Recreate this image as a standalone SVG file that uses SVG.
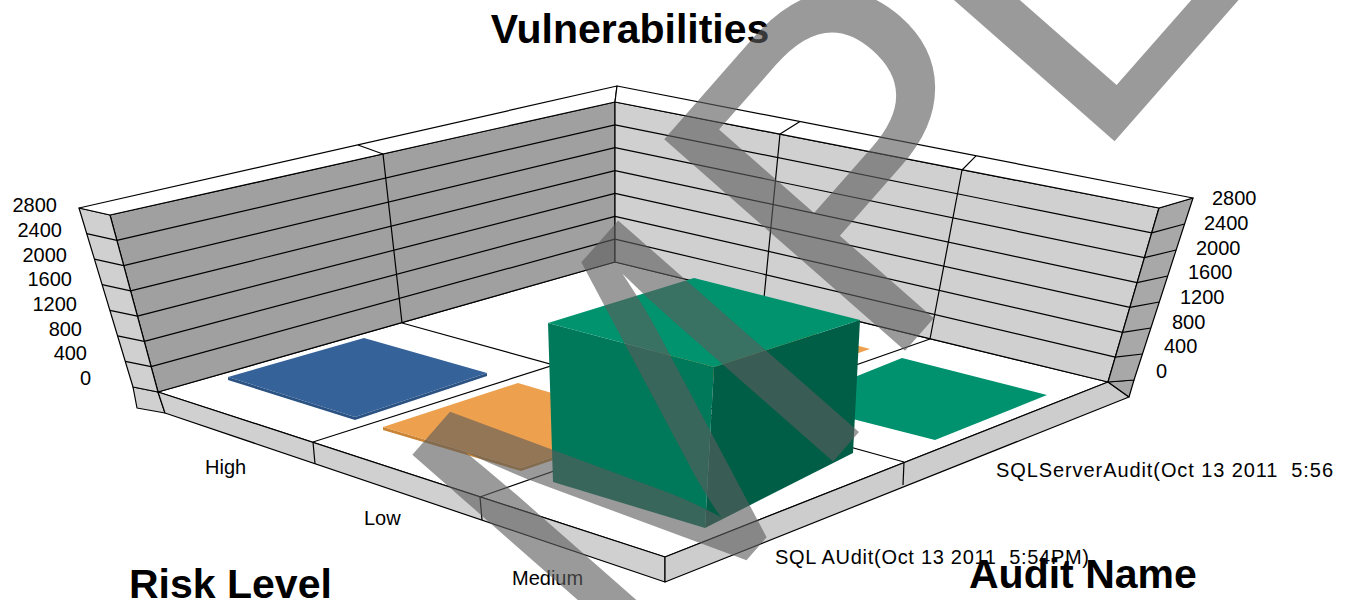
<svg xmlns="http://www.w3.org/2000/svg" width="1351" height="600" viewBox="0 0 1351 600">
<style>
.ln{stroke:#000;stroke-width:1.2;fill:none;stroke-linejoin:round}
.fc{stroke:#000;stroke-width:1.2;stroke-linejoin:round}
.tk{font-family:"Liberation Sans",Arial,sans-serif;font-size:20px;fill:#000}
.ttl{font-family:"Liberation Sans",Arial,sans-serif;font-size:41px;font-weight:bold;fill:#000}
</style>
<rect width="1351" height="600" fill="#fff"/>
<g id="floor">
<polygon class="fc" points="615,262 158,392 665,557 1108,382" fill="#fff"/>
<line class="ln" x1="402" y1="323" x2="904" y2="462"/>
<line class="ln" x1="764" y1="298" x2="313" y2="442"/>
<line class="ln" x1="930" y1="339" x2="480" y2="497"/>
</g>
<g id="base">
<polygon class="fc" points="133,387 158,392 165,413 137,408" fill="#d0d0d0"/>
<polygon class="fc" points="158,392 665,557 665,582 165,413" fill="#d0d0d0"/>
<line class="ln" x1="313" y1="442" x2="315" y2="464"/>
<line class="ln" x1="480" y1="497" x2="482" y2="520"/>
<polygon class="fc" points="665,557 1108,382 1129,397 665,582" fill="#cdcdcd"/>
<polygon class="fc" points="1108,382 1134,380 1129,397" fill="#a8a8a8"/>
<line class="ln" x1="904" y1="462" x2="903" y2="485"/>
</g>
<g id="left-wall">
<polygon class="fc" points="110,215 615,102 615,262 158,392" fill="#a0a0a0"/>
<polygon class="fc" points="79,208 110,215 158,392 133,387" fill="#d0d0d0"/>
<polygon class="fc" points="79,208 617,86 615,102 110,215" fill="#fff"/>
<g class="ln">
<polyline points="125.3,361.4 151.1,366.7 615,239.1"/>
<polyline points="117.6,335.9 144.3,341.4 615,216.3"/>
<polyline points="109.9,310.3 137.4,316.1 615,193.4"/>
<polyline points="102.1,284.7 130.6,290.9 615,170.6"/>
<polyline points="94.4,259.1 123.7,265.6 615,147.7"/>
<polyline points="86.7,233.6 116.9,240.3 615,124.9"/>
<polyline points="358,145 383,154 402,323"/>
</g>
</g>
<g id="right-wall">
<polygon class="fc" points="615,102 1159,208 1108,382 615,262" fill="#d0d0d0"/>
<polygon class="fc" points="1159,208 1193,198 1134,380 1108,382" fill="#a8a8a8"/>
<polygon class="fc" points="617,86 1193,198 1159,208 615,102" fill="#fff"/>
<g class="ln">
<polyline points="615,239.1 1115.3,357.1 1142.4,354"/>
<polyline points="615,216.3 1122.6,332.3 1150.9,328"/>
<polyline points="615,193.4 1129.9,307.4 1159.3,302"/>
<polyline points="615,170.6 1137.1,282.6 1167.7,276"/>
<polyline points="615,147.7 1144.4,257.7 1176.1,250"/>
<polyline points="615,124.9 1151.7,232.9 1184.6,224"/>
<polyline points="800,121.6 780,134 764,298"/>
<polyline points="976,155.8 962,170 930,339"/>
</g>
</g>
<g id="bar-high-sql">
<polygon points="228,377 355,417 487,373 487,376 355,420 228,380" fill="#2a5282"/>
<polygon points="228,377 364,338 487,373 355,417" fill="#36629a"/>
</g>
<g id="bar-low-sqlserver">
<polygon points="640,354 760,319 870,349 752,390" fill="#eda04e"/>
</g>
<g id="bar-medium-sqlserver">
<polygon points="790,403 902,358 1047,395 935,440" fill="#00926e"/>
</g>
<g id="bar-low-sql">
<polygon points="383,427 521,468 653,423 653,426 521,471 383,430" fill="#c98535"/>
<polygon points="383,427 518,383 653,423 521,468" fill="#eda04e"/>
</g>
<g id="bar-medium-sql">
<polygon points="548,323 714,367 705,528 553,482" fill="#00785a"/>
<polygon points="714,367 860,320 853,453 705,528" fill="#005e47"/>
<polygon points="548,323 694,278 860,320 714,367" fill="#00936e"/>
</g>
<g id="labels">
<g class="tk" text-anchor="end">
<text x="91" y="385">0</text>
<text x="87" y="360.3">400</text>
<text x="82" y="335.6">800</text>
<text x="77" y="310.9">1200</text>
<text x="72" y="286.2">1600</text>
<text x="67" y="261.5">2000</text>
<text x="62" y="236.8">2400</text>
<text x="57" y="212.1">2800</text>
</g>
<g class="tk">
<text x="1156" y="378">0</text>
<text x="1164" y="353.3">400</text>
<text x="1172" y="328.6">800</text>
<text x="1180" y="303.9">1200</text>
<text x="1188" y="279.2">1600</text>
<text x="1196" y="254.5">2000</text>
<text x="1204" y="229.8">2400</text>
<text x="1212" y="205.1">2800</text>
<text x="205" y="474">High</text>
<text x="364" y="525">Low</text>
<text x="512" y="585">Medium</text>
<text x="996" y="477" xml:space="preserve" textLength="337">SQLServerAudit(Oct 13 2011  5:56</text>
<text x="775" y="564" xml:space="preserve" textLength="314">SQL AUdit(Oct 13 2011  5:54PM)</text>
</g>
<text class="ttl" x="630" y="43" text-anchor="middle">Vulnerabilities</text>
<text class="ttl" x="129" y="598">Risk Level</text>
<text class="ttl" x="969" y="588" fill="#1a1a1a">Audit Name</text>
</g>
<g id="watermark">
<text transform="translate(628,695) rotate(-48.7)" font-family="Liberation Sans, Arial, sans-serif" font-size="466" fill="#5c5c5c" fill-opacity="0.62">M<tspan dx="15" dy="-19">P</tspan><tspan dx="-15" dy="19">L</tspan></text>
</g>
</svg>
